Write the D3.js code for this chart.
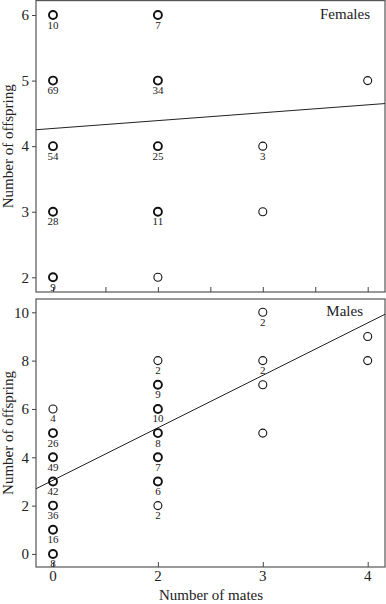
<!DOCTYPE html>
<html><head>
<meta charset="utf-8"/>
<script src="https://d3js.org/d3.v7.min.js"></script>
<style>
  body { margin: 0; padding: 0; background: #fff; }
  svg text { font-family: 'Liberation Serif', 'DejaVu Serif', serif; fill: #222; }
</style>
</head>
<body>
<div id="chart"></div>
<script>
// Females (count null = single point, no label)
const femaleX = [0, 0, 0, 0, 0, 2, 2, 2, 2, 2, 3, 3, 4];
const femaleY = [6, 5, 4, 3, 2, 6, 5, 4, 3, 2, 4, 3, 5];
const femaleN = [10, 69, 54, 28, 9, 7, 34, 25, 11, null, 3, null, null];

const maleX = [0, 0, 0, 0, 0, 0, 0, 2, 2, 2, 2, 2, 2, 2, 3, 3, 3, 3, 4, 4];
const maleY = [6, 5, 4, 3, 2, 1, 0, 8, 7, 6, 5, 4, 3, 2, 10, 8, 7, 5, 9, 8];
const maleN = [4, 26, 49, 42, 36, 16, 8, 2, 9, 10, 8, 7, 6, 2, 2, 2, null, null, null, null];

// x axis is drawn on an even grid of positions; mates 0,2,3,4 sit at positions 0,2,4,6
const matesValues = [0, 2, 3, 4];
const matesPos = [0, 2, 4, 6];
const femaleTickPos = [0, 1, 2, 3, 4, 5, 6];
const maleTickPos = [0, 2, 4, 6];
const maleTickLabels = ["0", "2", "3", "4"];

// fitted lines, in axis-position units: [intercept, slope]
const femaleFit = [4.27, 0.060];
const maleFit = [3.05, 1.085];

const femaleYTicks = [2, 3, 4, 5, 6];
const maleYTicks = [0, 2, 4, 6, 8, 10];

const W = 386, H = 604;
const left = 36, right = 385;
const svg = d3.select("#chart").append("svg").attr("width", W).attr("height", H);

const p = d3.scaleLinear().domain([-0.324, 6.33]).range([left, right]);
const x = d3.scaleLinear().domain(matesValues).range(matesPos.map(v => p(v)));

function panel(cfg) {
  const y = d3.scaleLinear().domain(cfg.yDomain).range([cfg.bottom, cfg.top]);
  const g = svg.append("g");

  g.append("rect")
    .attr("x", left).attr("y", cfg.top)
    .attr("width", right - left).attr("height", cfg.bottom - cfg.top)
    .attr("fill", "none").attr("stroke", "#555").attr("stroke-width", 1.2);

  const ya = g.append("g").attr("transform", `translate(${left},0)`)
    .call(d3.axisLeft(y).tickValues(cfg.yTicks).tickSize(4).tickPadding(3).tickFormat(d3.format("d")));
  ya.select(".domain").remove();
  ya.selectAll("line").attr("stroke", "#444");
  ya.selectAll("text").style("font-size", "15px").attr("fill", "#222");

  const xa = g.append("g").attr("transform", `translate(0,${cfg.bottom})`)
    .call(d3.axisTop(p).tickValues(cfg.xTicks).tickSize(5).tickFormat(""));
  xa.select(".domain").remove();
  xa.selectAll("line").attr("stroke", "#444");
  if (cfg.xLabels) {
    g.append("g").selectAll("text").data(cfg.xTicks).enter().append("text")
      .attr("x", d => p(d)).attr("y", cfg.bottom + 14)
      .attr("text-anchor", "middle").style("font-size", "15px")
      .text((d, i) => cfg.xLabels[i]);
  }

  const [a, b] = cfg.fit;
  const pd = p.domain();
  g.append("line")
    .attr("x1", p(pd[0])).attr("y1", y(a + b * pd[0]))
    .attr("x2", p(pd[1])).attr("y2", y(a + b * pd[1]))
    .attr("stroke", "#222").attr("stroke-width", 1);

  const pts = cfg.xs.map((v, i) => ({ x: v, y: cfg.ys[i], n: cfg.ns[i] }));
  g.selectAll("circle").data(pts).enter().append("circle")
    .attr("cx", d => x(d.x)).attr("cy", d => y(d.y)).attr("r", 4)
    .attr("fill", "none").attr("stroke", "#111")
    .attr("stroke-width", d => d.n && d.n >= 5 ? 1.9 : 1.1);

  g.selectAll(".cnt").data(pts.filter(d => d.n)).enter().append("text")
    .attr("class", "cnt")
    .attr("x", d => x(d.x)).attr("y", d => y(d.y) + 13.5)
    .attr("text-anchor", "middle").style("font-size", "11px").attr("fill", "#333")
    .text(d => d.n);

  g.append("text").attr("x", cfg.labelX).attr("y", cfg.top + cfg.labelDy)
    .attr("text-anchor", "end").style("font-size", "15px").text(cfg.label);

  g.append("text")
    .attr("transform", `translate(13,${(cfg.top + cfg.bottom) / 2}) rotate(-90)`)
    .attr("text-anchor", "middle").style("font-size", "15px")
    .text("Number of offspring");
}

panel({ top: 0.6, bottom: 292, yDomain: [1.776, 6.22], yTicks: femaleYTicks, xTicks: femaleTickPos,
  xs: femaleX, ys: femaleY, ns: femaleN, fit: femaleFit, label: "Females", labelX: 370, labelDy: 18, xLabels: null });
panel({ top: 299, bottom: 567, yDomain: [-0.54, 10.55], yTicks: maleYTicks, xTicks: maleTickPos,
  xs: maleX, ys: maleY, ns: maleN, fit: maleFit, label: "Males", labelX: 363, labelDy: 17, xLabels: maleTickLabels });

svg.append("text").attr("x", 211).attr("y", 600).attr("text-anchor", "middle")
  .style("font-size", "15px").text("Number of mates");
</script>
</body></html>
